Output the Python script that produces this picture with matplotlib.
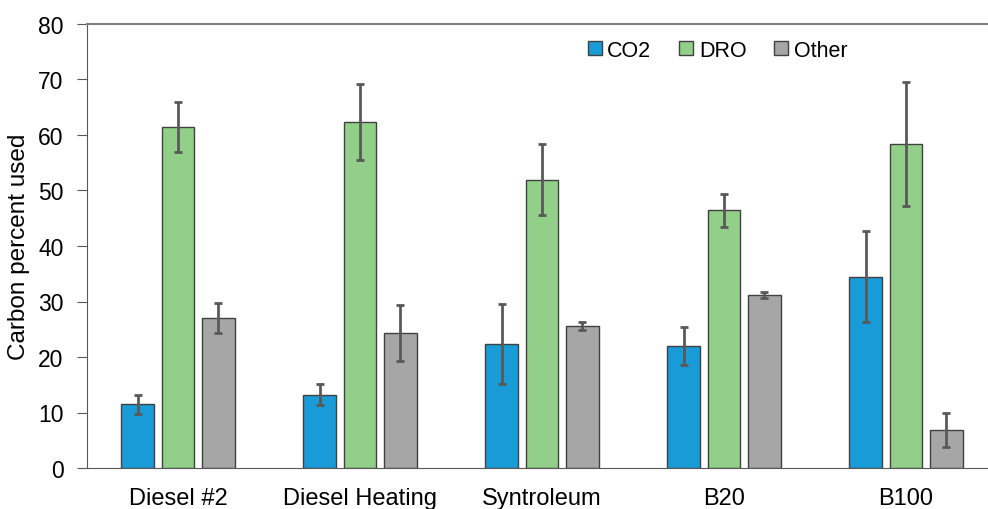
import matplotlib
matplotlib.use("Agg")
import matplotlib.pyplot as plt
import numpy as np

plt.rcParams['font.family'] = ['Liberation Sans', 'DejaVu Sans']

fuels = ['Diesel #2', 'Diesel Heating', 'Syntroleum', 'B20', 'B100']
co2 = [11.5, 13.2, 22.3, 22.0, 34.5]
co2_err = [1.7, 1.9, 7.2, 3.4, 8.2]
dro = [61.5, 62.3, 51.9, 46.4, 58.4]
dro_err = [4.5, 6.8, 6.4, 3.0, 11.2]
other = [27.0, 24.3, 25.6, 31.2, 6.9]
other_err = [2.7, 5.0, 0.7, 0.5, 3.1]

series = [('CO2', co2, co2_err, '#189bd6'),
          ('DRO', dro, dro_err, '#92d08a'),
          ('Other', other, other_err, '#a6a6a6')]

fig = plt.figure(figsize=(9.88, 5.1), dpi=100)
ax = fig.add_axes([87/988, 41/510, 910/988, 444/510])

x = np.arange(len(fuels))
pitch = 0.2225
width = 0.179
for i, (name, vals, errs, col) in enumerate(series):
    ax.bar(x + (i - 1) * pitch, vals, width, color=col, edgecolor='#404040',
           linewidth=1, label=name, zorder=2)
    ax.errorbar(x + (i - 1) * pitch, vals, yerr=errs, fmt='none', ecolor='#595959',
                elinewidth=2, capsize=3, capthick=2, zorder=3)

ax.set_xlim(-0.5, 4.5)
ax.set_ylim(0, 80)
ax.set_yticks(range(0, 81, 10))
ax.set_xticks(x)
ax.set_xticklabels(fuels, fontsize=17)
ax.tick_params(axis='y', labelsize=16.5, direction='out', length=7, color='#595959', pad=10)
ax.tick_params(axis='x', length=0, pad=14)
ax.set_ylabel('Carbon percent used', fontsize=17.5)
ax.yaxis.set_label_coords(-57/910, 0.5)

ax.spines['right'].set_visible(False)
ax.spines['top'].set_color('#808080')
ax.spines['top'].set_linewidth(1.5)
ax.spines['left'].set_color('#595959')
ax.spines['bottom'].set_color('#595959')

ax.legend(ncol=3, loc='center', bbox_to_anchor=(0.693, 0.941), frameon=False,
          fontsize=15.5, handlelength=0.65, handleheight=0.65, handletextpad=0.25,
          columnspacing=1.3)

fig.savefig('out.png', dpi=100)
